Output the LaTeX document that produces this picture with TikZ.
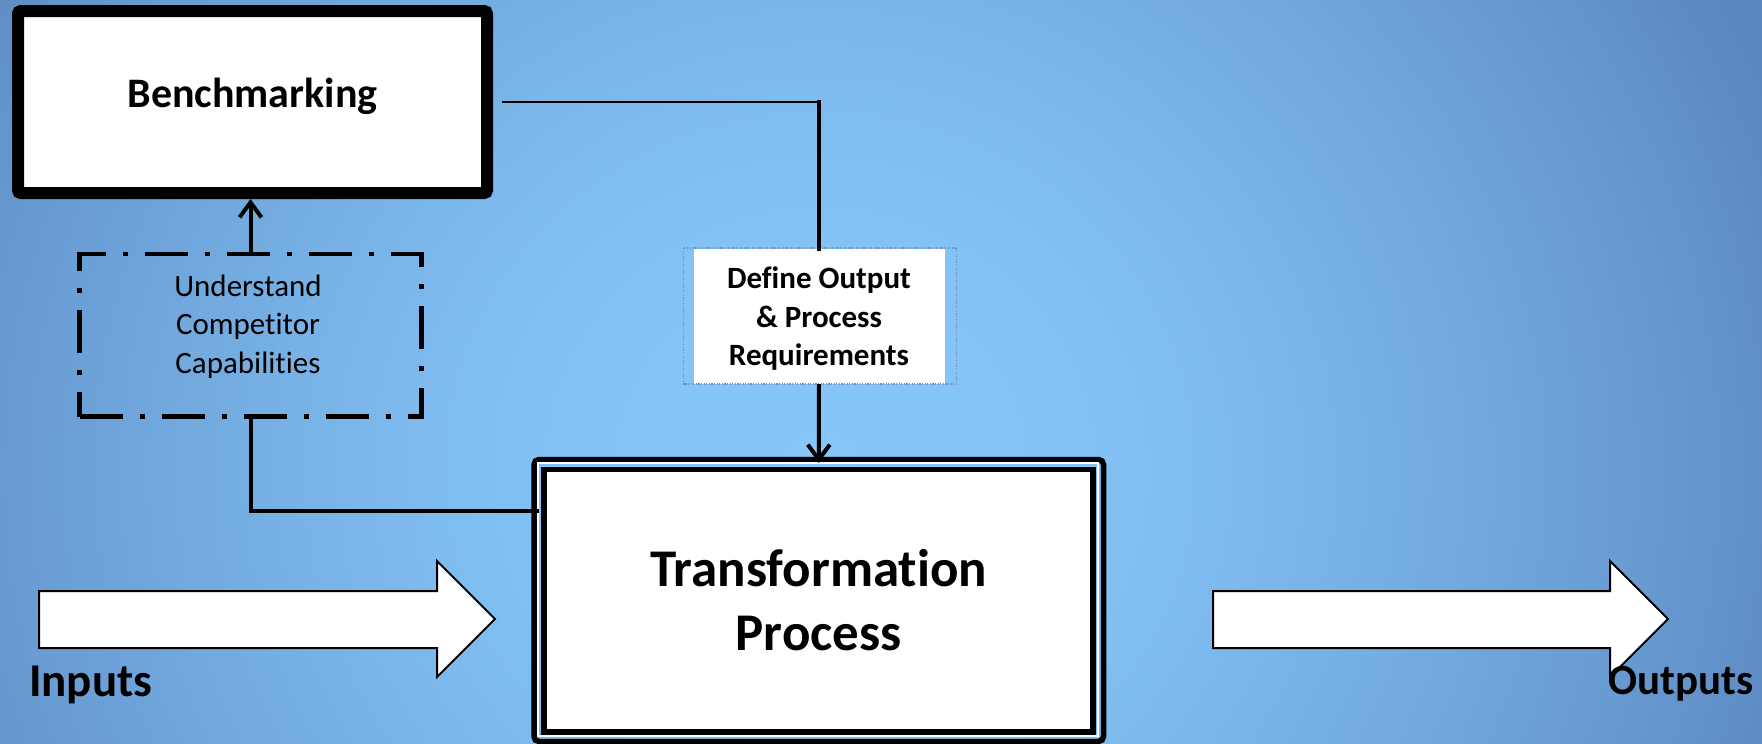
\documentclass[tikz,border=0pt]{standalone}
\usepackage{fontspec}
\setmainfont{Carlito}[Ligatures=NoCommon]
\usetikzlibrary{arrows.meta}
\definecolor{bgA}{HTML}{86C6F9}
\definecolor{bgB}{HTML}{84C3F6}
\definecolor{bgC}{HTML}{7AB5E8}
\definecolor{bgD}{HTML}{689BD2}
\definecolor{bgE}{HTML}{5A88BF}
\definecolor{dotcol}{HTML}{7390B4}
\pgfdeclareradialshading{bgshade}{\pgfpoint{0bp}{0bp}}{color(0bp)=(bgA); color(12bp)=(bgB); color(24bp)=(bgC); color(40bp)=(bgD); color(50bp)=(bgE); color(80bp)=(bgE)}
\begin{document}
\begin{tikzpicture}[x=1pt,y=-1pt,
  benchbox/.style={draw, line width=12pt, fill=white, rounded corners=3pt, inner sep=0pt, outer sep=0pt, minimum width=469pt, minimum height=182pt},
  dashbox/.style={draw, line width=4.5pt, dash pattern=on 43pt off 17pt on 5pt off 17pt, inner sep=0pt, outer sep=0pt, minimum width=342pt, minimum height=162.5pt},
  defbox/.style={fill=white, inner sep=0pt, outer sep=0pt, minimum width=251pt, minimum height=135pt},
  transbox/.style={draw, line width=5.5pt, rounded corners=5pt, inner sep=0pt, outer sep=0pt, minimum width=569.5pt, minimum height=282pt},
  dotframe/.style={draw=dotcol, line width=1.2pt, dash pattern=on 1.2pt off 1.4pt},
  bigtxt/.style={inner sep=0pt, align=center, font=\bfseries\fontsize{53pt}{64pt}\selectfont},
  benchtxtstyle/.style={inner sep=0pt, font=\bfseries\fontsize{42pt}{51pt}\selectfont},
  deftxt/.style={inner sep=0pt, align=center, font=\bfseries\fontsize{31pt}{38.5pt}\selectfont},
  regtxt/.style={inner sep=0pt, align=center, font=\fontsize{31pt}{38.5pt}\selectfont},
  lbl/.style={inner sep=0pt, font=\bfseries\fontsize{43pt}{52pt}\selectfont},
  conn/.style={line width=4pt},
  thinconn/.style={line width=2.3pt},
  tip/.style={-{Straight Barb[length=15pt,width=22pt]}},
  blockarrow/.style={draw=black, fill=white, line width=2pt, line join=miter}
]
\useasboundingbox (0,0) rectangle (1762,744);
\begin{scope}[overlay]
  \clip (0,0) rectangle (1762,744);
  \begin{pgfscope}
    \pgftransformshift{\pgfpoint{820pt}{-470pt}}
    \pgftransformxscale{20.42}
    \pgftransformyscale{19.51}
    \pgflowlevelsynccm
    \pgfuseshading{bgshade}
  \end{pgfscope}
\end{scope}

% Benchmarking
\node[benchbox] (bench) at (252.5,102) {};
\node[benchtxtstyle, anchor=base] (benchtxt) at (252.5,107) {Benchmarking};

% Understand competitor capabilities
\node[dashbox] (dash) at (250.5,335.25) {};
\node[regtxt] (dashtxt) at (248,326.5) {Understand\\Competitor\\Capabilities};

% Define output
\node[defbox] (define) at (819,316.5) {};
\draw[dotframe] ([xshift=-10pt,yshift=1pt]define.north west) rectangle ([xshift=12pt]define.south east);
\node[deftxt] (deftext) at (819,319) {Define Output\\\& Process\\Requirements};

% Transformation process
\node[transbox] (trans) at (818.75,600.5) {};
\draw[white, line width=2pt] ([shift={(4,3.5)}]trans.north west) rectangle ([shift={(-5.5,-5.5)}]trans.south east);
\draw[line width=5.5pt, fill=white] ([shift={(10,10)}]trans.north west) rectangle ([shift={(-10.5,-9.5)}]trans.south east);
\node[bigtxt] (transtxt) at (trans.center) {Transformation\\Process};

% connectors
\coordinate (k1) at (define.north |- bench.east);
\draw[thinconn] ([xshift=15pt]bench.east) -- (k1);
\draw[conn, line cap=rect] (k1) -- (define.north);
\draw[conn, tip, shorten >=-3.5pt] (define.south) -- (trans.north);
\draw[conn, tip, shorten >=6pt] (dash.north) -- (dash.north |- bench.south);
\draw[conn, shorten >=-5pt] (dash.south) |- ([yshift=89.5pt]trans.west);

% block arrows
\draw[blockarrow] (39,591) -- (437,591) -- (437,561) -- (495,619) -- (437,677) -- (437,648) -- (39,648) -- cycle;
\draw[blockarrow] (1213,591) -- (1610,591) -- (1610,561) -- (1668,619) -- (1610,677) -- (1610,648) -- (1213,648) -- cycle;

\node[lbl, font=\bfseries\fontsize{47pt}{56pt}\selectfont, anchor=base west] (inputs) at (29,696) {Inputs};
\node[lbl, anchor=base west] (outputs) at (1608,694) {Outputs};
\end{tikzpicture}
\end{document}
